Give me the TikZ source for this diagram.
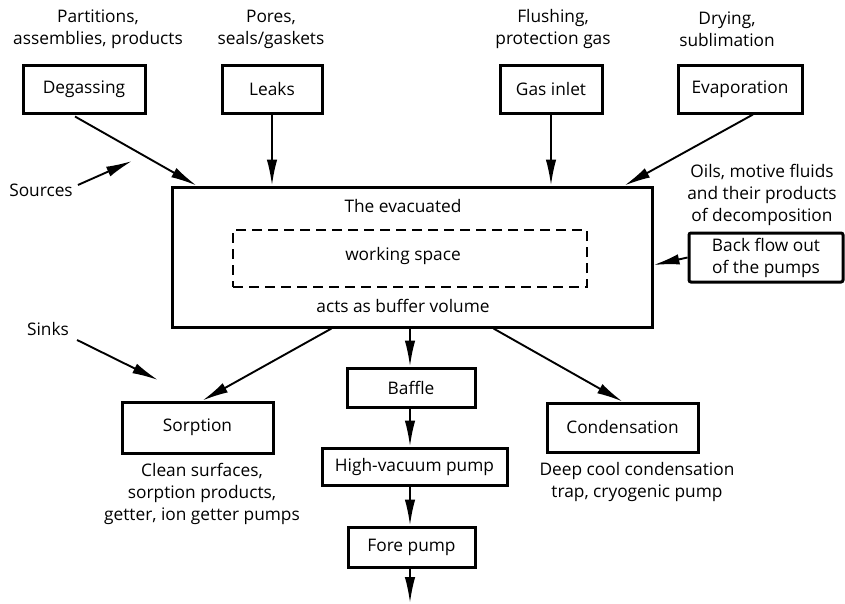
\documentclass[tikz,border=0pt]{standalone}
\usepackage{fontspec}
\setmainfont{Open Sans}
\usetikzlibrary{arrows.meta,calc}
\newcommand\dfont{\fontsize{17.3}{22}\selectfont}
\begin{document}
\begin{tikzpicture}[x=1pt,y=-1pt,
  every node/.style={font=\dfont, inner sep=0pt},
  box/.style={draw, line width=3pt, rectangle},
  lbl/.style={align=center},
  conn/.style={line width=1.9pt, -{Latex[length=26pt,width=10.5pt]}}
]
\useasboundingbox (0,0) rectangle (845,603);

% source boxes
\node[box, minimum width=122pt, minimum height=48pt] (deg) at (84,89) {Degassing};
\node[box, minimum width=100pt, minimum height=48pt] (leaks) at (272,89) {Leaks};
\node[box, minimum width=102pt, minimum height=48pt] (gas) at (551,89) {Gas inlet};
\node[box, minimum width=124pt, minimum height=48pt] (evap) at (740,89) {Evaporation};

% labels above
\node[lbl] (lpart) at (98,29) {Partitions,\\assemblies, products};
\node[lbl] (lpores) at (271,29) {Pores,\\seals/gaskets};
\node[lbl] (lflush) at (553,29) {Flushing,\\protection gas};
\node[lbl] (ldry) at (727,29) {Drying,\\sublimation};

% main box
\node[box, minimum width=480pt, minimum height=140pt] (main) at (412,257) {};
\node[draw, dashed, dash pattern=on 10pt off 6pt, line width=2.6pt, minimum width=354pt, minimum height=57pt] (ws) at (410,258.5) {};
\node (tevac) at (403,206) {The evacuated};
\node (twork) at (403,256) {working space};
\node (tbuf) at (403,306) {acts as buffer volume};

% right side
\node[lbl] (loils) at (762,195) {Oils, motive fluids\\and their products\\of decomposition};
\node[box, rounded corners=2pt, minimum width=154pt, minimum height=49pt, align=center] (back) at (766,257.5) {Back flow out\\of the pumps};

% sources / sinks
\node (src) at (41,190) {Sources};
\coordinate (srctip) at (132,161);
\node (snk) at (48,329) {Sinks};
\coordinate (snktip) at (158,380);

% sinks and pumps
\node[box, minimum width=151pt, minimum height=51pt] (sorp) at (197.5,427.5) {Sorption};
\node[box, minimum width=128pt, minimum height=39pt] (baffle) at (411,387.5) {Baffle};
\node[box, minimum width=185pt, minimum height=37pt] (hv) at (414.5,466.5) {High-vacuum pump};
\node[box, minimum width=127pt, minimum height=40pt] (fore) at (411.5,547) {Fore pump};
\node[box, minimum width=151pt, minimum height=49pt] (cond) at (622.5,427.5) {Condensation};
\coordinate (out) at (410,603);

\node[lbl] (lsorp) at (202,494) {Clean surfaces,\\sorption products,\\getter, ion getter pumps};
\node[lbl] (lcond) at (637,481.5) {Deep cool condensation\\trap, cryogenic pump};

% helper coordinate on the pump column
\coordinate (colx) at (410,0);

% connectors in
\draw[conn] ($(deg.south)+(-9,2)$) -- ($(main.north west)+(26,0)$);
\draw[conn] (leaks.south) -- (leaks.south |- main.north);
\draw[conn] (gas.south) -- (gas.south |- main.north);
\draw[conn] ($(evap.south)+(13,0)$) -- ($(main.north east)+(-29,0)$);
\draw[conn] (back.west) -- ($(main.east)+(0,8)$);
\draw[conn] ($(src.east)+(5,-5)$) -- (srctip);
\draw[conn] ($(snk.east)+(8,11)$) -- (snktip);

% connectors out
\draw[conn] ($(main.south west)+(161,0)$) -- ($(sorp.north)+(5,0)$);
\draw[conn] ($(main.south west)+(323,0)$) -- (cond.north);
\draw[conn] (colx |- main.south) -- (colx |- baffle.north);
\draw[conn] (colx |- baffle.south) -- (colx |- hv.north);
\draw[conn] (colx |- hv.south) -- (colx |- fore.north);
\draw[conn] (colx |- fore.south) -- (out);
\end{tikzpicture}
\end{document}
